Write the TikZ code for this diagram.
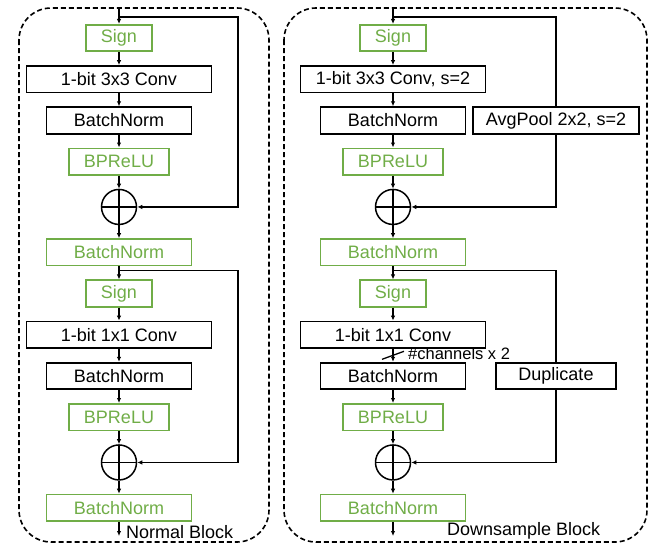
\documentclass[tikz,border=0pt]{standalone}
\usepackage{fontspec}
\setmainfont{Liberation Sans}
\usetikzlibrary{positioning,arrows.meta}
\definecolor{bpgreen}{RGB}{112,173,71}

\begin{document}
\begin{tikzpicture}[x=1pt,y=-1pt,%
  font=\fontsize{18}{21}\selectfont,%
  node distance=13pt,%
  blk/.style={draw,line width=1.7pt,minimum height=26.5pt,inner sep=0pt},%
  gblk/.style={blk,draw=bpgreen,text=bpgreen},%
  add/.style={draw,circle,line width=1.5pt,minimum size=35pt,inner sep=0pt,%
    path picture={\draw[line width=1.5pt] (path picture bounding box.north) -- (path picture bounding box.south)
      (path picture bounding box.west) -- (path picture bounding box.east);}},%
  arr/.style={-{Latex[length=5pt,width=4.5pt]},line width=1.3pt},%
  ln/.style={line width=1.3pt},%
  frame/.style={line width=1.6pt,dash pattern=on 5pt off 3pt,rounded corners=32pt}%
  ]
  \useasboundingbox (0,0) rectangle (658,546);
%
  \draw[frame] (19,8) rectangle (269,542);
  \draw[frame] (284,8) rectangle (647,542);
%
  % normal block
  \node (L-s1) [gblk, minimum width=66pt] at (119,38) {Sign};
  \node (L-c1) [blk, minimum width=185pt, below=of L-s1] {1-bit 3x3 Conv};
  \node (L-b1) [blk, minimum width=145pt, below=of L-c1] {BatchNorm};
  \node (L-p1) [gblk, minimum width=100pt, below=of L-b1] {BPReLU};
  \node (L-a1) [add, below=of L-p1] {};
  \node (L-n1) [gblk, minimum width=145pt, below=of L-a1] {BatchNorm};
  \node (L-s2) [gblk, minimum width=66pt, below=of L-n1] {Sign};
  \node (L-c2) [blk, minimum width=185pt, below=of L-s2] {1-bit 1x1 Conv};
  \node (L-b2) [blk, minimum width=145pt, below=of L-c2] {BatchNorm};
  \node (L-p2) [gblk, minimum width=100pt, below=of L-b2] {BPReLU};
  \node (L-a2) [add, below=of L-p2] {};
  \node (L-n2) [gblk, minimum width=145pt, below=of L-a2] {BatchNorm};
  \node (L-lbl) [anchor=west, inner sep=0pt] at (126,532) {Normal Block};
%
  \coordinate (L-in) at (119,9);
  \coordinate (L-j1) at (119,17);
  \coordinate (L-k1) at (238,17);
  \coordinate (L-j2) at ([yshift=-4pt]L-n1.south);
  \coordinate (L-k2) at (L-k1 |- L-j2);
  \coordinate (L-out) at (119,536);
%
  \draw[arr] (L-in) -- (L-s1);
  \draw[arr] (L-s1) -- (L-c1);
  \draw[arr] (L-c1) -- (L-b1);
  \draw[arr] (L-b1) -- (L-p1);
  \draw[arr] (L-p1) -- (L-a1);
  \draw[arr] (L-a1) -- (L-n1);
  \draw[arr] (L-j1) -- (L-k1) |- (L-a1);
%
  \draw[arr] (L-n1) -- (L-s2);
  \draw[arr] (L-s2) -- (L-c2);
  \draw[arr] (L-c2) -- (L-b2);
  \draw[arr] (L-b2) -- (L-p2);
  \draw[arr] (L-p2) -- (L-a2);
  \draw[arr] (L-a2) -- (L-n2);
  \draw[arr] (L-j2) -- (L-k2) |- (L-a2);
  \draw[arr] (L-n2) -- (L-out);
%
  % downsample block
  \node (R-s1) [gblk, minimum width=66pt] at (393,38) {Sign};
  \node (R-c1) [blk, minimum width=185pt, below=of R-s1] {1-bit 3x3 Conv, s=2};
  \node (R-b1) [blk, minimum width=145pt, below=of R-c1] {BatchNorm};
  \node (R-p1) [gblk, minimum width=100pt, below=of R-b1] {BPReLU};
  \node (R-a1) [add, below=of R-p1] {};
  \node (R-n1) [gblk, minimum width=145pt, below=of R-a1] {BatchNorm};
  \node (R-s2) [gblk, minimum width=66pt, below=of R-n1] {Sign};
  \node (R-c2) [blk, minimum width=185pt, below=of R-s2] {1-bit 1x1 Conv};
  \node (R-b2) [blk, minimum width=145pt, below=of R-c2] {BatchNorm};
  \node (R-p2) [gblk, minimum width=100pt, below=of R-b2] {BPReLU};
  \node (R-a2) [add, below=of R-p2] {};
  \node (R-n2) [gblk, minimum width=145pt, below=of R-a2] {BatchNorm};
  \node (R-lbl) [anchor=west, inner sep=0pt] at (447,531) {Downsample Block};
%
  \coordinate (R-in) at (393,9);
  \coordinate (R-j1) at (393,17);
  \coordinate (R-k1) at (556,17);
  \coordinate (R-j2) at ([yshift=-4pt]R-n1.south);
  \coordinate (R-k2) at (R-k1 |- R-j2);
  \coordinate (R-mid) at ([yshift=-6.5pt]R-c2.south);
  \coordinate (R-out) at (393,536);
%
  \node (R-pool) [blk, minimum width=166pt] at (R-k1 |- R-b1) {AvgPool 2x2, s=2};
  \node (R-dup) [blk, minimum width=120pt] at (R-k1 |- R-b2) {Duplicate};
  \node (R-ch) [anchor=west, inner sep=0pt, font=\fontsize{16.5}{19}\selectfont] at (408,354) {\#channels x 2};
%
  \draw[arr] (R-in) -- (R-s1);
  \draw[arr] (R-s1) -- (R-c1);
  \draw[arr] (R-c1) -- (R-b1);
  \draw[arr] (R-b1) -- (R-p1);
  \draw[arr] (R-p1) -- (R-a1);
  \draw[arr] (R-a1) -- (R-n1);
  \draw[ln] (R-j1) -- (R-k1) -- (R-pool);
  \draw[arr] (R-pool) |- (R-a1);
%
  \draw[arr] (R-n1) -- (R-s2);
  \draw[arr] (R-s2) -- (R-c2);
  \draw[arr] (R-c2) -- (R-b2);
  \draw[ln] ([xshift=-11pt,yshift=-4pt]R-mid) -- ([xshift=11pt,yshift=4pt]R-mid);
  \draw[arr] (R-b2) -- (R-p2);
  \draw[arr] (R-p2) -- (R-a2);
  \draw[arr] (R-a2) -- (R-n2);
  \draw[ln] (R-j2) -- (R-k2) -- (R-dup);
  \draw[arr] (R-dup) |- (R-a2);
  \draw[arr] (R-n2) -- (R-out);
%
\end{tikzpicture}
\end{document}
